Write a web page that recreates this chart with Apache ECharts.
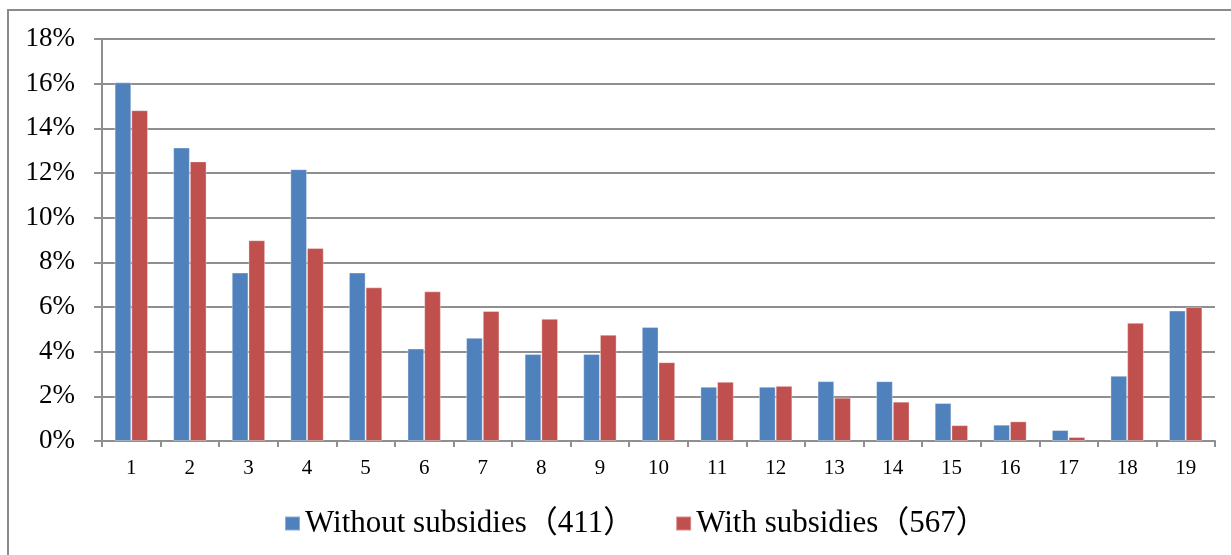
<!DOCTYPE html>
<html>
<head>
<meta charset="utf-8">
<script src="https://cdn.jsdelivr.net/npm/echarts@6/dist/echarts.min.js"></script>
<style>
  html, body { margin: 0; padding: 0; background: #ffffff; }
  #chart { width: 1231px; height: 555px; }
</style>
</head>
<body>
<div id="chart"></div>
<script>
// Share of respondents per category (%), by subsidy status
const categories = ['1','2','3','4','5','6','7','8','9','10','11','12','13','14','15','16','17','18','19'];
const withoutSubsidies = [16.06, 13.14, 7.54, 12.17, 7.54, 4.14, 4.62, 3.89, 3.89, 5.11, 2.43, 2.43, 2.68, 2.68, 1.70, 0.73, 0.49, 2.92, 5.84];
const withSubsidies = [14.81, 12.52, 8.99, 8.64, 6.88, 6.70, 5.82, 5.47, 4.76, 3.53, 2.65, 2.47, 1.94, 1.76, 0.71, 0.88, 0.18, 5.29, 6.00];
const seriesNames = ['Without subsidies（411）', 'With subsidies（567）'];

const FONT = "'Liberation Serif', 'Noto Sans CJK JP', serif";
const LINE = '#8f8f8f';

const chart = echarts.init(document.getElementById('chart'), null, { renderer: 'canvas' });

chart.setOption({
  animation: false,
  backgroundColor: '#ffffff',
  graphic: [{
    type: 'rect',
    shape: { x: 8, y: 10, width: 1250, height: 580 },
    style: { fill: 'none', stroke: '#8a8a8a', lineWidth: 2 },
    silent: true
  }],
  grid: { left: 102, right: 16, top: 39, bottom: 114, containLabel: false },
  legend: {
    left: 284,
    top: 508,
    padding: 0,
    itemWidth: 15,
    itemHeight: 14,
    itemGap: 41,
    icon: 'rect',
    textStyle: { fontFamily: FONT, fontSize: 31, color: '#000000' },
    data: seriesNames
  },
  xAxis: {
    type: 'category',
    data: categories,
    axisLine: { lineStyle: { color: LINE, width: 2 } },
    axisTick: { show: true, length: 6, interval: 0, lineStyle: { color: LINE, width: 2 } },
    axisLabel: { fontFamily: FONT, fontSize: 21, color: '#000000', margin: 17, interval: 0 }
  },
  yAxis: {
    type: 'value',
    min: 0,
    max: 18,
    interval: 2,
    axisLine: { show: true, lineStyle: { color: LINE, width: 2 } },
    axisTick: { show: true, length: 8, lineStyle: { color: LINE, width: 2 } },
    axisLabel: { fontFamily: FONT, fontSize: 27, color: '#000000', margin: 27, formatter: '{value}%' },
    splitLine: { show: true, lineStyle: { color: LINE, width: 2 } }
  },
  series: [
    {
      name: seriesNames[0],
      type: 'bar',
      data: withoutSubsidies,
      barGap: '0%',
      barCategoryGap: '43%',
      itemStyle: { color: '#4f81bd', borderColor: 'rgba(255,255,255,0.35)', borderWidth: 1 }
    },
    {
      name: seriesNames[1],
      type: 'bar',
      data: withSubsidies,
      barGap: '0%',
      barCategoryGap: '43%',
      itemStyle: { color: '#c0504d', borderColor: 'rgba(255,255,255,0.35)', borderWidth: 1 }
    }
  ]
});
</script>
</body>
</html>
